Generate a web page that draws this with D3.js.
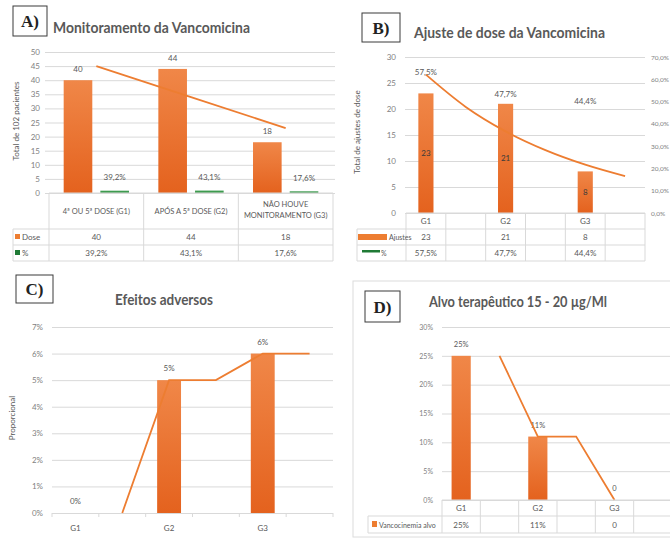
<!DOCTYPE html>
<html><head><meta charset="utf-8">
<script src="https://cdnjs.cloudflare.com/ajax/libs/d3/7.8.5/d3.min.js"></script>
<style>
body{margin:0;background:#fff}
svg{display:block}
text{font-family:Lato,"Open Sans",sans-serif}
</style>
</head><body>
<svg id="chart" width="670" height="540"></svg>
<script>
// ---------- A) Monitoramento da Vancomicina ----------
const headA = [["4ª OU 5ª DOSE (G1)"], ["APÓS A 5ª DOSE (G2)"], ["NÃO HOUVE", "MONITORAMENTO (G3)"]];
const doseA = [40, 44, 18];
const pctA = [39.2, 43.1, 17.6];
const trendA = [45, 34, 23];
const ticksA = [0, 5, 10, 15, 20, 25, 30, 35, 40, 45, 50];

// ---------- B) Ajuste de dose da Vancomicina ----------
const colsB = ["G1", "", "G2", "", "G3", ""];
const ajustesB = [23, null, 21, null, 8, null];
const pctB = [57.5, null, 47.7, null, 44.4, null];
const trendB = [26.6, 20.4, 15.7, 12.1, 9.3, 7.1];
const ticksBLeft = [0, 5, 10, 15, 20, 25, 30];
const ticksBRight = [0, 10, 20, 30, 40, 50, 60, 70];

// ---------- C) Efeitos adversos ----------
const colsC = ["G1", "", "G2", "", "G3", ""];
const adversosC = [0, null, 5, null, 6, null];
const lineC = [null, 0, 5, 5, 6, 6];
const ticksC = [0, 1, 2, 3, 4, 5, 6, 7];

// ---------- D) Alvo terapêutico ----------
const colsD = ["G1", "", "G2", "", "G3", ""];
const alvoD = [25, null, 11, null, 0, null];
const alvoLabelsD = ["25%", "", "11%", "", "0", ""];
const lineD = [null, 25, 11, 11, 0, null];
const ticksD = [0, 5, 10, 15, 20, 25, 30];

const ORANGE = "#ED7D31", GREEN = "#3E9B4F", GRID = "#d9d9d9";
const TXT = "#595959", TICK = "#7f7f7f";
const ptBR = d3.formatLocale({decimal: ",", thousands: ".", grouping: [3], currency: ["R$", ""]});
const f1 = ptBR.format(".1f");

const svg = d3.select("#chart");
svg.append("rect").attr("width", 670).attr("height", 540).attr("fill", "#fff");

const defs = svg.append("defs");
const grad = defs.append("linearGradient").attr("id", "barGrad")
  .attr("x1", 0).attr("y1", 0).attr("x2", 0).attr("y2", 1);
grad.append("stop").attr("offset", "0%").attr("stop-color", "#F08748");
grad.append("stop").attr("offset", "100%").attr("stop-color", "#E4621E");

// shared helpers
function styleAxis(ax, size) {
  ax.select(".domain").remove();
  ax.attr("font-family", "Lato, 'Open Sans', sans-serif");
  ax.selectAll(".tick line").attr("stroke", GRID);
  ax.selectAll(".tick text").attr("fill", TICK).attr("font-size", size);
}
function hline(g, x1, x2, y) {
  g.append("line").attr("x1", x1).attr("x2", x2).attr("y1", y).attr("y2", y)
    .attr("stroke", GRID).attr("stroke-width", 1);
}
function vline(g, x, y1, y2) {
  g.append("line").attr("x1", x).attr("x2", x).attr("y1", y1).attr("y2", y2)
    .attr("stroke", GRID).attr("stroke-width", 1);
}
function boxLabel(x, y, w, h, label) {
  svg.append("rect").attr("x", x).attr("y", y).attr("width", w).attr("height", h)
    .attr("fill", "#fff").attr("stroke", "#3a3a3a").attr("stroke-width", 1);
  svg.append("text").attr("x", x + w / 2).attr("y", y + h / 2 + 6)
    .attr("text-anchor", "middle").attr("font-size", 17).attr("font-weight", "bold")
    .style("font-family", "'Liberation Serif', 'DejaVu Serif', serif")
    .attr("fill", "#222").text(label);
}
function title(x, y, len, size, label) {
  svg.append("text").attr("x", x).attr("y", y).attr("font-size", size)
    .attr("font-weight", "bold").attr("fill", TXT)
    .attr("textLength", len).attr("lengthAdjust", "spacingAndGlyphs")
    .text(label);
}
function yTitle(x, y, label) {
  svg.append("text").attr("transform", `translate(${x},${y}) rotate(-90)`)
    .attr("text-anchor", "middle").attr("font-size", 8).attr("fill", TXT).text(label);
}

// ================= Panel A =================
{
  const g = svg.append("g");
  const x = d3.scaleBand().domain(d3.range(3)).range([49, 333]);
  const xs = d3.scaleBand().domain(["Dose", "%"]).range([0, x.bandwidth()])
    .paddingInner(0.22).paddingOuter(0.4);
  const y = d3.scaleLinear().domain([0, 50]).range([193, 52]);

  const ax = g.append("g").attr("transform", "translate(45,0)")
    .call(d3.axisLeft(y).tickValues(ticksA).tickSize(-290).tickPadding(5));
  styleAxis(ax, 8);

  g.selectAll(".barDose").data(doseA).join("rect")
    .attr("x", (d, i) => x(i) + xs("Dose")).attr("width", xs.bandwidth())
    .attr("y", d => y(d)).attr("height", d => y(0) - y(d)).attr("fill", "url(#barGrad)");
  g.selectAll(".barPct").data(pctA).join("rect")
    .attr("x", (d, i) => x(i) + xs("%")).attr("width", xs.bandwidth())
    .attr("y", d => y(d / 100) - 1.2).attr("height", d => y(0) - y(d / 100) + 1.2).attr("fill", GREEN);

  g.selectAll(".lblDose").data(doseA).join("text")
    .attr("x", (d, i) => x(i) + xs("Dose") + xs.bandwidth() / 2).attr("y", d => y(d) - 8)
    .attr("text-anchor", "middle").attr("font-size", 8).attr("fill", TXT).text(d => d);
  g.selectAll(".lblPct").data(pctA).join("text")
    .attr("x", (d, i) => x(i) + xs("%") + xs.bandwidth() / 2).attr("y", d => y(d / 100) - 12)
    .attr("text-anchor", "middle").attr("font-size", 8).attr("fill", TXT).text(d => f1(d) + "%");

  const line = d3.line().x((d, i) => x(i) + x.bandwidth() / 2).y(d => y(d));
  g.append("path").datum(trendA).attr("d", line).attr("fill", "none")
    .attr("stroke", ORANGE).attr("stroke-width", 1.8);

  // data table
  const rows = [229, 245, 261];
  hline(g, 49, 333, 193);
  rows.forEach(r => hline(g, 13, 333, r));
  d3.range(4).forEach(i => vline(g, i < 3 ? x(i) : x.range()[1], 193, 261));
  vline(g, 13, 229, 261);
  headA.forEach((lines, i) => {
    const cx = x(i) + x.bandwidth() / 2;
    const y0 = lines.length === 1 ? 214 : 207;
    lines.forEach((t, k) => g.append("text").attr("x", cx).attr("y", y0 + k * 11)
      .attr("text-anchor", "middle").attr("font-size", 7.5).attr("fill", TXT).text(t));
  });
  doseA.forEach((d, i) => g.append("text").attr("x", x(i) + x.bandwidth() / 2).attr("y", 240)
    .attr("text-anchor", "middle").attr("font-size", 8).attr("fill", TXT).text(d));
  pctA.forEach((d, i) => g.append("text").attr("x", x(i) + x.bandwidth() / 2).attr("y", 256)
    .attr("text-anchor", "middle").attr("font-size", 8).attr("fill", TXT).text(f1(d) + "%"));
  g.append("rect").attr("x", 15).attr("y", 234).attr("width", 5).attr("height", 5).attr("fill", ORANGE);
  g.append("text").attr("x", 22).attr("y", 240).attr("font-size", 8).attr("fill", TXT).text("Dose");
  g.append("rect").attr("x", 15).attr("y", 250).attr("width", 5).attr("height", 5).attr("fill", "#1F7A35");
  g.append("text").attr("x", 22).attr("y", 256).attr("font-size", 8).attr("fill", TXT).text("%");

  yTitle(19, 121, "Total de 102 pacientes");
  boxLabel(13, 6, 34, 30, "A)");
  title(53, 33, 197, 16, "Monitoramento da Vancomicina");
}

// ================= Panel B =================
{
  const g = svg.append("g");
  const x = d3.scaleBand().domain(d3.range(colsB.length)).range([406, 645]);
  const y = d3.scaleLinear().domain([0, 30]).range([213, 57]);
  const yR = d3.scaleLinear().domain([0, 70]).range([213, 57]);
  const bw = x.bandwidth() * 0.38;

  const ax = g.append("g").attr("transform", "translate(405,0)")
    .call(d3.axisLeft(y).tickValues(ticksBLeft).tickSize(-240).tickPadding(9));
  styleAxis(ax, 8);
  const axR = g.append("g").attr("transform", "translate(645,0)")
    .call(d3.axisRight(yR).tickValues(ticksBRight).tickSize(0).tickPadding(6)
      .tickFormat(d => f1(d) + "%"));
  styleAxis(axR, 6.5);

  const cx = i => x(i) + x.bandwidth() / 2;
  const data = ajustesB.map((v, i) => ({v, i})).filter(d => d.v !== null);
  g.selectAll(".bar").data(data).join("rect")
    .attr("x", d => cx(d.i) - bw / 2).attr("width", bw)
    .attr("y", d => y(d.v)).attr("height", d => y(0) - y(d.v)).attr("fill", "url(#barGrad)");
  g.selectAll(".lblIn").data(data).join("text")
    .attr("x", d => cx(d.i)).attr("y", d => (y(d.v) + y(0)) / 2 + 3)
    .attr("text-anchor", "middle").attr("font-size", 8).attr("fill", "#3a3a3a").text(d => d.v);

  const pdat = pctB.map((v, i) => ({v, i})).filter(d => d.v !== null);
  g.selectAll(".lblPct").data(pdat).join("text")
    .attr("x", d => cx(d.i)).attr("y", d => yR(d.v) - 10)
    .attr("text-anchor", "middle").attr("font-size", 8).attr("fill", TXT).text(d => f1(d.v) + "%");

  const line = d3.line().x((d, i) => cx(i)).y(d => y(d)).curve(d3.curveMonotoneX);
  g.append("path").datum(trendB).attr("d", line).attr("fill", "none")
    .attr("stroke", ORANGE).attr("stroke-width", 1.8);

  // data table
  hline(g, 406, 645, 213);
  [229, 245, 261].forEach(r => hline(g, 357, 645, r));
  d3.range(colsB.length + 1).forEach(i => vline(g, i < colsB.length ? x(i) : x.range()[1], 213, 261));
  vline(g, 357, 229, 261);
  colsB.forEach((c, i) => g.append("text").attr("x", cx(i)).attr("y", 224)
    .attr("text-anchor", "middle").attr("font-size", 8).attr("fill", TXT).text(c));
  ajustesB.forEach((v, i) => g.append("text").attr("x", cx(i)).attr("y", 240)
    .attr("text-anchor", "middle").attr("font-size", 8).attr("fill", TXT).text(v === null ? "" : v));
  pctB.forEach((v, i) => g.append("text").attr("x", cx(i)).attr("y", 256)
    .attr("text-anchor", "middle").attr("font-size", 8).attr("fill", TXT).text(v === null ? "" : f1(v) + "%"));
  g.append("rect").attr("x", 358).attr("y", 234).attr("width", 29).attr("height", 6).attr("fill", ORANGE);
  g.append("text").attr("x", 389).attr("y", 240).attr("font-size", 7).attr("fill", TXT).text("Ajustes");
  g.append("rect").attr("x", 362).attr("y", 250).attr("width", 18).attr("height", 2.5).attr("fill", "#1F7A35");
  g.append("text").attr("x", 381).attr("y", 256).attr("font-size", 7).attr("fill", TXT).text("%");

  yTitle(360, 132, "Total de ajustes de dose");
  boxLabel(362, 13, 38, 29, "B)");
  title(414, 38, 191, 15, "Ajuste  de dose da Vancomicina");
}

// ================= Panel C =================
{
  const g = svg.append("g");
  const x = d3.scaleBand().domain(d3.range(colsC.length)).range([52, 333]);
  const y = d3.scaleLinear().domain([0, 7]).range([513, 327]);
  const bw = x.bandwidth() * 0.51;
  const cx = i => x(i) + x.bandwidth() / 2;

  const ax = g.append("g").attr("transform", "translate(52,0)")
    .call(d3.axisLeft(y).tickValues(ticksC).tickSize(-281).tickPadding(9)
      .tickFormat(d => d + "%"));
  styleAxis(ax, 8);
  // category tick marks along the base line
  d3.range(colsC.length + 1).forEach(i => {
    const xx = i < colsC.length ? x(i) : x.range()[1];
    g.append("line").attr("x1", xx).attr("x2", xx).attr("y1", 513).attr("y2", 517)
      .attr("stroke", GRID);
  });

  const data = adversosC.map((v, i) => ({v, i})).filter(d => d.v !== null);
  g.selectAll(".bar").data(data).join("rect")
    .attr("x", d => cx(d.i) - bw / 2).attr("width", bw)
    .attr("y", d => y(d.v)).attr("height", d => y(0) - y(d.v)).attr("fill", "url(#barGrad)");
  g.selectAll(".lbl").data(data).join("text")
    .attr("x", d => cx(d.i)).attr("y", d => y(d.v) - 9)
    .attr("text-anchor", "middle").attr("font-size", 8).attr("fill", TXT).text(d => d.v + "%");

  const line = d3.line().defined(d => d !== null).x((d, i) => cx(i)).y(d => y(d));
  g.append("path").datum(lineC).attr("d", line).attr("fill", "none")
    .attr("stroke", ORANGE).attr("stroke-width", 1.8);

  colsC.forEach((c, i) => g.append("text").attr("x", cx(i)).attr("y", 531)
    .attr("text-anchor", "middle").attr("font-size", 8).attr("fill", TXT).text(c));

  yTitle(15, 418, "Proporcional");
  boxLabel(16, 275, 37, 28, "C)");
  title(115, 305, 98, 15, "Efeitos adversos");
}

// ================= Panel D =================
{
  const g = svg.append("g");
  g.append("rect").attr("x", 353).attr("y", 281).attr("width", 330).attr("height", 256)
    .attr("fill", "none").attr("stroke", "#dcdcdc");
  const x = d3.scaleBand().domain(d3.range(colsD.length)).range([442, 672]);
  const y = d3.scaleLinear().domain([0, 30]).range([500, 327]);
  const bw = x.bandwidth() * 0.5;
  const cx = i => x(i) + x.bandwidth() / 2;

  const ax = g.append("g").attr("transform", "translate(442,0)")
    .call(d3.axisLeft(y).tickValues(ticksD).tickSize(-230).tickPadding(9)
      .tickFormat(d => d + "%"));
  styleAxis(ax, 7);

  const data = alvoD.map((v, i) => ({v, i})).filter(d => d.v !== null);
  g.selectAll(".bar").data(data).join("rect")
    .attr("x", d => cx(d.i) - bw / 2).attr("width", bw)
    .attr("y", d => y(d.v)).attr("height", d => y(0) - y(d.v)).attr("fill", "url(#barGrad)");
  g.selectAll(".lbl").data(data).join("text")
    .attr("x", d => cx(d.i)).attr("y", d => y(d.v) - 9)
    .attr("text-anchor", "middle").attr("font-size", 7.5).attr("fill", TXT)
    .text(d => alvoLabelsD[d.i]);

  const line = d3.line().defined(d => d !== null).x((d, i) => cx(i)).y(d => y(d));
  g.append("path").datum(lineD).attr("d", line).attr("fill", "none")
    .attr("stroke", ORANGE).attr("stroke-width", 1.8);

  // data table
  hline(g, 442, 672, 500);
  [516, 533].forEach(r => hline(g, 368, 672, r));
  d3.range(colsD.length).forEach(i => vline(g, x(i), 500, 533));
  vline(g, 368, 516, 533);
  colsD.forEach((c, i) => g.append("text").attr("x", cx(i)).attr("y", 511)
    .attr("text-anchor", "middle").attr("font-size", 8).attr("fill", TXT).text(c));
  alvoLabelsD.forEach((c, i) => g.append("text").attr("x", cx(i)).attr("y", 528)
    .attr("text-anchor", "middle").attr("font-size", 8).attr("fill", TXT).text(c));
  g.append("rect").attr("x", 372).attr("y", 521).attr("width", 5).attr("height", 6).attr("fill", ORANGE);
  g.append("text").attr("x", 379).attr("y", 528).attr("font-size", 7).attr("fill", TXT).text("Vancocinemia alvo");

  boxLabel(365, 291, 35, 31, "D)");
  title(429, 307, 178, 15, "Alvo terapêutico 15 - 20 µg/Ml");
}
</script>
</body></html>
